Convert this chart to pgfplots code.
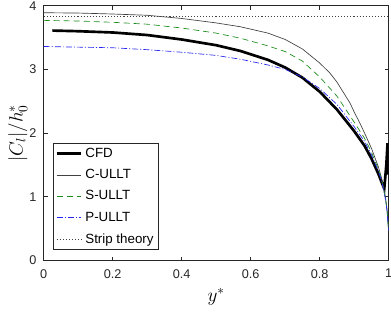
\documentclass[border=0pt]{standalone}
\usepackage{pgfplots}
\pgfplotsset{compat=1.18}
\usepackage{fontspec}
\setmainfont{Liberation Sans}
\definecolor{mgreen}{rgb}{0.1,0.55,0.1}
\definecolor{mblue}{rgb}{0.15,0.15,0.95}
\definecolor{axgray}{rgb}{0.15,0.15,0.15}
\begin{document}
\begin{tikzpicture}
\begin{axis}[
  scale only axis,
  width=258.75pt, height=191.1pt,
  xmin=0, xmax=1, ymin=0, ymax=4,
  xtick={0,0.2,0.4,0.6,0.8,1},
  xticklabels={0,0.2,0.4,0.6,0.8,1},
  ytick={0,1,2,3,4},
  tick align=inside,
  major tick length=3pt,
  axis line style={axgray, line width=0.5pt},
  every tick/.style={axgray, line width=0.5pt},
  tick label style={font=\fontsize{9.5}{11}\selectfont, text=axgray},
  /pgf/number format/assume math mode=true,
  xticklabel style={yshift=-3pt},
  yticklabel style={xshift=-2pt},
  xlabel={\fontsize{14}{16}\selectfont $y^*$},
  ylabel={\fontsize{14}{16}\selectfont $|C_l|/h_0^*$},
  xlabel style={at={([yshift=-27.5pt]axis description cs:0.5,0)}, anchor=center},
  ylabel style={at={([xshift=-19.5pt]axis description cs:0,0.5)}, anchor=center},
  legend style={at={(axis description cs:0.027,0.041)}, anchor=south west,
    font=\fontsize{10}{12}\selectfont, draw=axgray, line width=0.5pt,
    inner sep=1.5pt, row sep=3.6pt, legend cell align=left},
  legend image code/.code={\draw[#1] (0cm,0cm) -- (0.65cm,0cm);},
]
\addplot[black, line width=2pt] coordinates {
(0.025,3.61) (0.1,3.60) (0.2,3.58) (0.3,3.54) (0.4,3.47) (0.5,3.38) (0.57,3.29)
(0.65,3.15) (0.7,3.03) (0.75,2.87) (0.8,2.65) (0.85,2.37) (0.9,2.03) (0.93,1.80)
(0.95,1.60) (0.97,1.36) (0.98,1.22) (0.987,1.13) (0.993,1.5) (0.9965,1.84)
(0.998,1.75) (0.9995,1.35)};
\addlegendentry{CFD}
\addplot[black!75, line width=0.5pt] coordinates {
(0,3.89) (0.1,3.885) (0.2,3.87) (0.3,3.85) (0.4,3.80) (0.5,3.73) (0.57,3.67)
(0.65,3.57) (0.7,3.47) (0.75,3.32) (0.8,3.10) (0.83,2.94) (0.85,2.80) (0.888,2.47)
(0.9,2.33) (0.917,2.15) (0.93,2.00) (0.95,1.76) (0.97,1.47) (0.98,1.28) (0.99,1.01)
(0.995,0.81) (0.9995,0.47)};
\addlegendentry{C-ULLT}
\addplot[mgreen, line width=0.5pt, dash pattern=on 4.5pt off 3pt] coordinates {
(0,3.77) (0.1,3.76) (0.2,3.74) (0.3,3.71) (0.4,3.65) (0.5,3.57) (0.57,3.49)
(0.65,3.37) (0.7,3.28) (0.75,3.13) (0.8,2.88) (0.85,2.58) (0.9,2.17) (0.93,1.92)
(0.95,1.70) (0.97,1.43) (0.98,1.25) (0.99,0.99) (0.995,0.80) (0.9995,0.47)};
\addlegendentry{S-ULLT}
\addplot[mblue, line width=0.5pt, dash pattern=on 4.5pt off 1.5pt on 0.8pt off 1.5pt] coordinates {
(0,3.36) (0.1,3.35) (0.2,3.34) (0.3,3.31) (0.4,3.27) (0.5,3.22) (0.57,3.16)
(0.65,3.07) (0.7,3.00) (0.75,2.88) (0.8,2.70) (0.85,2.45) (0.9,2.10) (0.93,1.87)
(0.95,1.66) (0.97,1.40) (0.98,1.24) (0.99,0.97) (0.995,0.78) (0.9995,0.47)};
\addlegendentry{P-ULLT}
\addplot[black!75, line width=0.5pt, dash pattern=on 0.8pt off 1.5pt] coordinates {
(0,3.83) (1,3.83)};
\addlegendentry{Strip theory}
\end{axis}
\pgfresetboundingbox
\useasboundingbox ([xshift=-32.8pt,yshift=-38.6pt]current axis.south west) rectangle ([xshift=1.7pt,yshift=4.3pt]current axis.north east);
\end{tikzpicture}
\end{document}
